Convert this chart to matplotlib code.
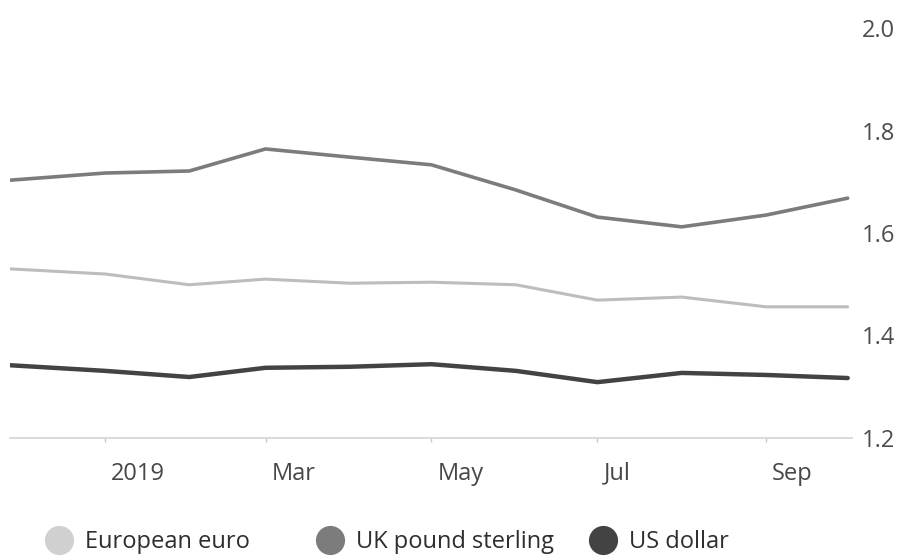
import matplotlib
matplotlib.use('Agg')
import matplotlib.pyplot as plt
import matplotlib.dates as mdates
from matplotlib.lines import Line2D
from matplotlib.transforms import ScaledTranslation
import pandas as pd

# ---- data ----
dates = ['2018-11-27', '2019-01-01', '2019-02-01', '2019-03-01', '2019-04-01',
         '2019-05-01', '2019-06-01', '2019-07-01', '2019-08-01', '2019-09-01',
         '2019-10-01']
eur = [1.530, 1.520, 1.499, 1.510, 1.502, 1.504, 1.499, 1.469, 1.475, 1.456, 1.456]
gbp = [1.703, 1.717, 1.721, 1.764, 1.748, 1.733, 1.684, 1.631, 1.612, 1.635, 1.668]
usd = [1.342, 1.331, 1.319, 1.337, 1.339, 1.344, 1.331, 1.309, 1.327, 1.323, 1.317]
series_names = ['European euro', 'UK pound sterling', 'US dollar']
yticks = [1.2, 1.4, 1.6, 1.8, 2.0]
xtick_dates = ['2019-01-01', '2019-03-01', '2019-05-01', '2019-07-01', '2019-09-01']
xtick_labels = ['2019', 'Mar', 'May', 'Jul', 'Sep']

line_colors = ['#bdbdbd', '#7c7c7c', '#434343']
dot_colors = ['#d0d0d0', '#7c7c7c', '#434343']
line_widths = [2.2, 2.6, 3.2]

plt.rcParams['font.family'] = ['Open Sans', 'DejaVu Sans']

W, H = 909, 559
fig = plt.figure(figsize=(W / 100, H / 100), dpi=100)
fig.patch.set_facecolor('white')
ax = fig.add_axes([10 / W, (H - 438) / H, 842 / W, 410 / H])

x = pd.to_datetime(dates)
for vals, c, lw in zip([eur, gbp, usd], line_colors, line_widths):
    ax.plot(x, vals, color=c, lw=lw, solid_joinstyle='round', solid_capstyle='round')

ax.set_xlim(pd.Timestamp('2018-11-27 02:00'), pd.Timestamp('2019-10-02 14:00'))
ax.set_ylim(1.2, 2.0)

for s in ['top', 'left', 'right']:
    ax.spines[s].set_visible(False)
ax.spines['bottom'].set_color('#d4d4d4')
ax.spines['bottom'].set_linewidth(1.2)

ax.set_xticks(pd.to_datetime(xtick_dates))
ax.set_xticklabels(xtick_labels)
ax.tick_params(axis='x', length=3, width=1, color='#c8c8c8', pad=14,
               labelsize=17, labelcolor='#474747')
off = ScaledTranslation(0.06, 0, fig.dpi_scale_trans)
for lab in ax.get_xticklabels():
    lab.set_horizontalalignment('left')
    lab.set_transform(lab.get_transform() + off)

ax.yaxis.tick_right()
ax.set_yticks(yticks)
ax.set_yticklabels([f'{v:.1f}' for v in yticks])
ax.tick_params(axis='y', length=0, pad=7, labelsize=17, labelcolor='#4d4d4d')
ax.set_facecolor('none')

# ---- legend (three fixed-position entries) ----
legend_x = [59, 330, 603]
for name, c, cx in zip(series_names, dot_colors, legend_x):
    h = Line2D([], [], marker='o', linestyle='none', markersize=21,
               markerfacecolor=c, markeredgewidth=0)
    fig.legend(handles=[h], labels=[name], loc='center left',
               bbox_to_anchor=((cx - 15.3) / W, 1 - 542 / H),
               frameon=False, handlelength=1.3, handletextpad=0.47,
               borderpad=0, borderaxespad=0, fontsize=17, labelcolor='#2e2e2e')

fig.savefig('out.png', dpi=100, facecolor='white')
